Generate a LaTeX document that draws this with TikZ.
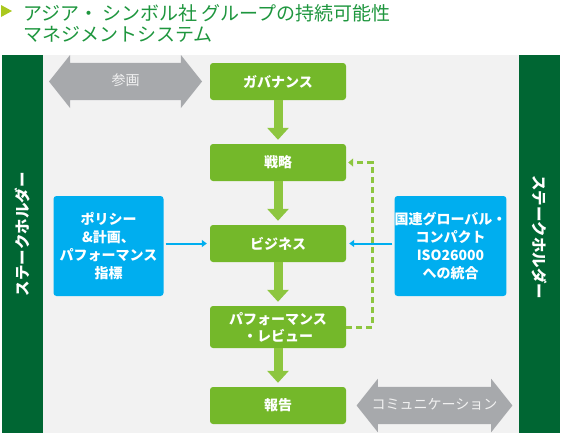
\documentclass[tikz,border=0pt]{standalone}
\usepackage{fontspec}
\setmainfont{Noto Sans CJK JP}
\usepackage{xcolor}
\usetikzlibrary{arrows.meta,shapes.arrows,positioning}
\definecolor{stakegreen}{RGB}{0,102,51}
\definecolor{panelgray}{RGB}{242,242,242}
\definecolor{boxgreen}{RGB}{116,184,42}
\definecolor{arrowgreen}{RGB}{141,198,63}
\definecolor{infoblue}{RGB}{0,174,239}
\definecolor{arrowgray}{RGB}{167,169,172}
\definecolor{titlegreen}{RGB}{30,150,62}
\definecolor{titletri}{RGB}{170,200,30}
\newcommand{\boxfont}{\bfseries\fontsize{14}{18}\selectfont}
\newcommand{\sidefont}{\bfseries\fontsize{15.5}{18}\selectfont}
\newcommand{\titlefont}{\fontsize{19}{22}\selectfont}

\begin{document}
\begin{tikzpicture}[x=1pt,y=-1pt,
	stage/.style={fill=boxgreen, rounded corners=3pt, minimum width=136pt, minimum height=37pt, inner sep=0pt, text=white, font=\boxfont, align=center},
	infobox/.style={fill=infoblue, rounded corners=3pt, minimum width=110pt, minimum height=100pt, inner sep=0pt, text=white, font=\boxfont, align=center},
	flow/.style={draw=arrowgreen, line width=9pt, -{Triangle[width=21pt,length=12pt]}, shorten >=4pt},
	feed/.style={draw=infoblue, line width=2pt, -{Triangle[width=7pt,length=5pt]}, shorten <=2pt, shorten >=3pt},
	backline/.style={draw=arrowgreen, line width=3pt, dash pattern=on 6pt off 4pt, -{Triangle[width=8pt,length=5pt]}, shorten >=2pt},
	twoway/.style={double arrow, fill=arrowgray, minimum height=153pt, minimum width=53pt, double arrow head extend=8pt, double arrow tip angle=103, text height=10pt, text depth=3pt, inner ysep=12pt, inner xsep=0pt, text=panelgray, font=\fontsize{14}{16}\selectfont}]
	\useasboundingbox (0,0) rectangle (562,437);
	%Title
	\fill[titletri] (1,5) -- (12,11) -- (1,17) -- cycle;
	\node[anchor=base west, inner sep=0pt, text=titlegreen, font=\titlefont] (title1) at (23,20.5) {アジア・ シンボル社 グループの持続可能性};
	\node[anchor=base west, inner sep=0pt, text=titlegreen, font=\titlefont] (title2) at (23,41.5) {マネジメントシステム};
	%Panel and stakeholder bars
	\fill[panelgray] (43,55) rectangle (519,433);
	\fill[stakegreen] (2,55) rectangle (43,433);
	\fill[stakegreen] (519,55) rectangle (560,433);
	\node[rotate=90, text=white, font=\sidefont] (sideL) at (22.5,234) {ステークホルダー};
	\node[rotate=-90, text=white, font=\sidefont] (sideR) at (539.5,237) {ステークホルダー};
	%Two-way arrows
	\node[twoway] (join) at (125.5,81.5) {参画};
	\node[twoway] (talk) at (434.5,405.5) {コミュニケーション};
	%Main steps
	\node[stage] (gov) at (278,81.5) {ガバナンス};
	\node[stage] (strat) at (278,162.5) {戦略};
	\node[stage] (biz) at (278,243.5) {ビジネス};
	\node[stage, minimum height=42pt, font=\bfseries\fontsize{14}{17}\selectfont] (perf) at (278,327) {パフォーマンス\\・レビュー};
	\node[stage] (report) at (278,405.5) {報告};
	%Side inputs
	\node[infobox] (policy) at (108.5,246) {ポリシー\\\&計画、\\パフォーマンス\\指標};
	\node[infobox] (ungc) at (450.5,246) {国連グローバル・\\コンパクト\\ISO26000\\への統合};
	%Arrows
	\draw[flow] (gov) -- (strat);
	\draw[flow] (strat) -- (biz);
	\draw[flow] (biz) -- (perf);
	\draw[flow] (perf) -- (report);
	\draw[feed] (policy.east |- biz.west) -- (biz.west);
	\draw[feed] (ungc.west |- biz.east) -- (biz.east);
	\draw[backline] (perf.east) -- ++(26,0) |- (strat.east);
\end{tikzpicture}
\end{document}
